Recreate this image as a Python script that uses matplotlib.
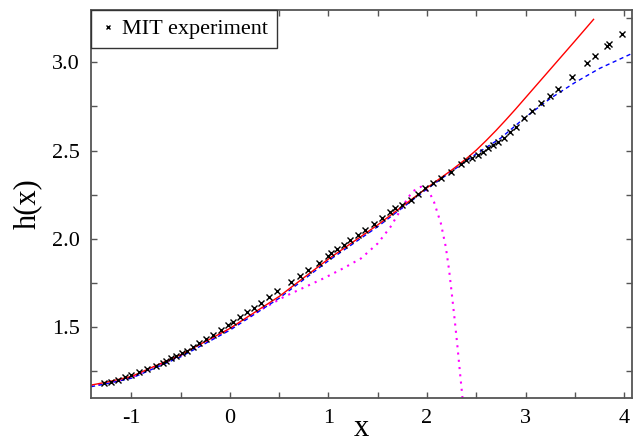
import matplotlib
matplotlib.use("Agg")
import matplotlib.pyplot as plt
from matplotlib.ticker import MultipleLocator

plt.rcParams['font.family'] = ['Liberation Serif', 'DejaVu Serif']

# MIT experiment data
mit_x = [-1.28, -1.21, -1.14, -1.07, -1.00, -0.92, -0.84, -0.755, -0.683, -0.646,
         -0.602, -0.544, -0.483, -0.432, -0.377, -0.31, -0.242, -0.169, -0.094, -0.023,
         0.035, 0.097, 0.174, 0.24, 0.315, 0.398, 0.481, 0.62, 0.706, 0.794,
         0.899, 1.0, 1.03, 1.09, 1.157, 1.22, 1.297, 1.371, 1.459, 1.54,
         1.623, 1.67, 1.742, 1.835, 1.91, 1.984, 2.06, 2.143, 2.24, 2.342,
         2.40, 2.46, 2.518, 2.572, 2.62, 2.674, 2.72, 2.776, 2.843, 2.904,
         2.985, 3.07, 3.161, 3.249, 3.334, 3.469, 3.621, 3.706, 3.824, 3.848, 3.977]
mit_y = [1.183, 1.192, 1.202, 1.217, 1.230, 1.245, 1.264, 1.283, 1.300, 1.311,
         1.325, 1.339, 1.356, 1.368, 1.390, 1.409, 1.433, 1.459, 1.487, 1.511,
         1.532, 1.557, 1.584, 1.61, 1.639, 1.67, 1.703, 1.758, 1.790, 1.824,
         1.866, 1.905, 1.92, 1.942, 1.966, 1.992, 2.022, 2.051, 2.085, 2.116,
         2.152, 2.173, 2.192, 2.22, 2.255, 2.288, 2.315, 2.343, 2.381, 2.425,
         2.446, 2.46, 2.475, 2.494, 2.513, 2.532, 2.55, 2.573, 2.607, 2.635,
         2.685, 2.726, 2.768, 2.809, 2.85, 2.918, 2.994, 3.035, 3.092, 3.102, 3.160]

# red solid curve
red_x = [-1.41, -1.25, -1.0, -0.5, 0.0, 0.5, 1.0, 1.5, 2.0, 2.25, 2.4, 2.5, 2.6, 2.7,
         2.8, 2.9, 3.0, 3.25, 3.5, 3.69]
red_y = [1.173, 1.19, 1.222, 1.345, 1.494, 1.675, 1.887, 2.08, 2.29, 2.39, 2.455, 2.503, 2.557, 2.614,
         2.674, 2.736, 2.80, 2.96, 3.12, 3.243]

# blue dashed curve
blue_x = [-1.41, -1.25, -1.0, -0.5, 0.0, 0.5, 1.0, 1.5, 2.0, 2.25, 2.5, 2.75, 3.0, 3.25, 3.5, 3.75, 4.1]
blue_y = [1.164, 1.181, 1.212, 1.333, 1.484, 1.665, 1.877, 2.07, 2.283, 2.383, 2.482, 2.572, 2.69, 2.795, 2.885, 2.965, 3.055]

# magenta dotted curve
mag_x = [-1.41, -1.25, -1.0, -0.5, 0.0, 0.3, 0.55, 0.75, 0.95, 1.15, 1.33, 1.5, 1.63, 1.77, 1.85,
         1.94, 2.02, 2.07, 2.14, 2.19, 2.224, 2.251, 2.281, 2.309, 2.335, 2.36]
mag_y = [1.168, 1.186, 1.217, 1.34, 1.49, 1.595, 1.673, 1.725, 1.777, 1.834, 1.89, 1.975, 2.069, 2.20, 2.268,
         2.296, 2.268, 2.211, 2.089, 1.956, 1.824, 1.692, 1.541, 1.39, 1.24, 1.10]

xticks = [-1, 0, 1, 2, 3, 4]
xtick_labels = ['-1', '0', '1', '2', '3', '4']
yticks = [1.5, 2.0, 2.5, 3.0]
ytick_labels = ['1.5', '2.0', '2.5', '3.0']

fig = plt.figure(figsize=(6.33, 4.42), dpi=100)
ax = fig.add_axes([91/633, 1 - 398/442, (632 - 91)/633, (398 - 10)/442])

ax.plot(mag_x, mag_y, color='#ff00ff', lw=1.5, linestyle=(0, (1, 2.5)))
ax.plot(blue_x, blue_y, color='#0000ff', lw=1.0, linestyle=(0, (3, 2.5)))
ax.plot(red_x, red_y, color='#ff0000', lw=1.0)
ax.plot(mit_x, mit_y, linestyle='none', marker='x', color='black', ms=5, mew=1.0,
        label='MIT experiment')

ax.set_xlim(-1.41, 4.08)
ax.set_ylim(1.1, 3.296)

ax.set_xticks(xticks)
ax.set_xticklabels(xtick_labels)
ax.set_yticks(yticks)
ax.set_yticklabels(ytick_labels)
ax.xaxis.set_minor_locator(MultipleLocator(0.5))
ax.yaxis.set_minor_locator(MultipleLocator(0.25))

spine_col = '#555555'
for s in ax.spines.values():
    s.set_color(spine_col)
    s.set_linewidth(1.3)
ax.tick_params(which='both', direction='in', top=True, right=True, length=4,
               width=1.0, color=spine_col, labelsize=16, labelcolor='black')
ax.tick_params(axis='x', which='major', pad=8)
ax.tick_params(axis='y', which='major', pad=8)

ax.set_xlabel('x', fontsize=22)
ax.set_ylabel('h(x)', fontsize=22)
ax.xaxis.set_label_coords(0.5, -0.04)
ax.yaxis.set_label_coords(-0.09, 0.5)

leg = ax.legend(loc='upper left', borderaxespad=0, fancybox=False, framealpha=1,
                edgecolor='#333333', fontsize=16, numpoints=1, markerscale=0.7,
                handlelength=0.7, handletextpad=0.3, borderpad=0.4)
leg.get_frame().set_linewidth(1.0)

fig.savefig('out.png', dpi=100)
